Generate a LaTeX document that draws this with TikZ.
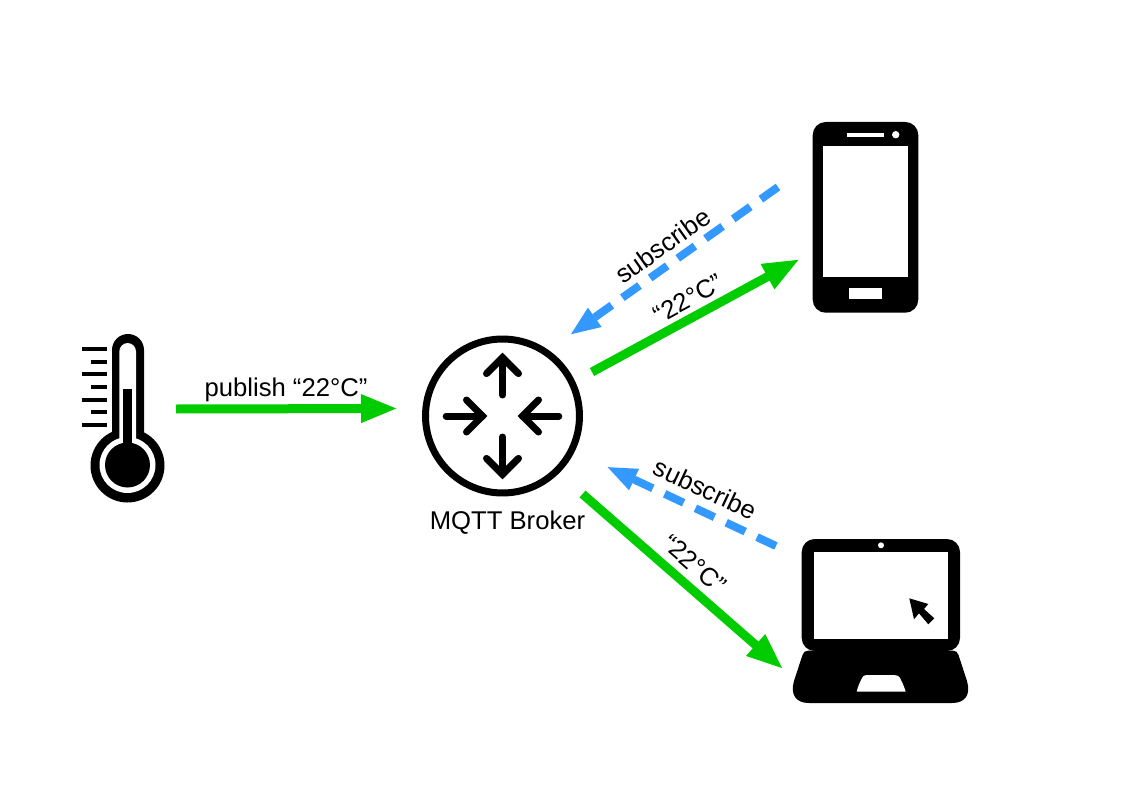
\documentclass[tikz,border=0pt]{standalone}
\usepackage{fontspec}
\setmainfont{Liberation Sans}
\usepackage{tikz}
\usetikzlibrary{arrows.meta, positioning}
\definecolor{pubgreen}{HTML}{00CC00}
\definecolor{subblue}{HTML}{3399FF}
\tikzstyle{label} = [font=\fontsize{14.6}{17}\selectfont, inner sep=2pt]
\tikzstyle{publine} = [pubgreen, line width=0.18cm, -{Triangle[length=0.74cm,width=0.52cm]}]
\tikzstyle{subline} = [subblue, line width=0.16cm, dash pattern=on 0.42cm off 0.26cm, -{Triangle[length=0.62cm,width=0.42cm]}]
\tikzstyle{router} = [circle, draw=black, line width=0.14cm, minimum size=3.08cm, inner sep=0pt, outer sep=0pt]
\tikzstyle{tick} = [line width=0.08cm]
\tikzstyle{routerarrow} = [line width=0.14cm, line cap=round, miter limit=10]
\begin{document}
\begin{tikzpicture}[x=0.02cm, y=-0.02cm]
    \useasboundingbox (0,0) rectangle (1123,794);

        % Broker
        \node (broker) [router] at (502.5,416) {};
        \node (brokerlabel) [label, below=0.28cm of broker, xshift=0.1cm] {MQTT Broker};
        \foreach \ang in {0,180} {
            \begin{scope}[shift={(broker.center)}, rotate=\ang]
                \draw [routerarrow] (0,21) -- (0,58.4);
                \draw [routerarrow] (-16,42.4) -- (0,58.4) -- (16,42.4);
            \end{scope}
        }
        \foreach \ang in {90,270} {
            \begin{scope}[shift={(broker.center)}, rotate=\ang]
                \draw [routerarrow] (0,56.3) -- (0,20);
                \draw [routerarrow] (-16,36) -- (0,20) -- (16,36);
            \end{scope}
        }

        % Thermometer
        \fill [rounded corners=0.32cm] (112,334) rectangle (144,470);
        \fill (127.5,465.5) circle [radius=37];
        \fill [white] (127.5,465) circle [radius=28];
        \fill [white, rounded corners=0.17cm] (119.3,343) rectangle (136,460);
        \fill (127.5,465) circle [radius=22.5];
        \fill (123.3,389) rectangle (132,460);
        \foreach \y/\x in {349/82.3, 361.7/90.7, 374.3/82.3, 387/90.7, 399.7/82.3, 412.3/90.7, 425.3/82.3}
            \draw [tick] (\x,\y) -- (106.7,\y);

        % Phone
        \fill [rounded corners=0.26cm] (812.7,122) rectangle (918.3,312.7);
        \fill [white] (823,146) rectangle (908.3,276.7);
        \fill [white] (847,133) rectangle (884,136.7);
        \fill [white] (895.7,134.7) circle [radius=3.7];
        \fill [white] (849,288.3) rectangle (882,299);

        % Laptop
        \fill [rounded corners=0.26cm] (801.7,539) rectangle (960,651);
        \fill (808,650.7) -- (953,650.7) .. controls (956,650.7) and (957.5,652) .. (958.5,655) -- (967,681) .. controls (971,695) and (965,703) .. (952,703) -- (809,703) .. controls (796,703) and (790,695) .. (794,681) -- (802.5,655) .. controls (803.5,652) and (805,650.7) .. (808,650.7) -- cycle;
        \fill [white] (814.3,551.7) rectangle (947.7,638.7);
        \fill [white] (881,545.3) circle [radius=3];
        \fill [white] (867,675) -- (894,675) .. controls (897,675) and (899,676) .. (900,678) .. controls (902,682) and (904,686) .. (905.7,691.7) -- (856.7,691.7) .. controls (858,686) and (860,682) .. (862,678) .. controls (863,676) and (864,675) .. (867,675) -- cycle;
        \fill (909.3,598.3) -- (928.3,604) -- (924,609) -- (934.3,618.3) -- (928.3,624.3) -- (919,613.3) -- (914,619.3) -- cycle;

        % Arrow ends
        \coordinate (thermoout) at (176,409);
        \coordinate (brokerwest) at (398,408.5);
        \coordinate (brokerne) at (592,372);
        \coordinate (phonein) at (800,259);
        \coordinate (phoneout) at (778,187);
        \coordinate (brokernein) at (569.5,335.3);
        \coordinate (brokerse) at (582.5,494);
        \coordinate (laptopin) at (783.5,669.3);
        \coordinate (laptopout) at (776,546);
        \coordinate (brokersein) at (606,466.4);

        % Arrows
        \draw [publine] (thermoout) -- node[label, above=-0.03cm, xshift=-0.02cm, black] {publish “22°C”} (brokerwest);
        \draw [publine] (brokerne) -- node[label, pos=0.505, sloped, above=0.03cm, black] {“22°C”} (phonein);
        \draw [subline] (phoneout) -- node[label, sloped, above=0.045cm, black] {subscribe} (brokernein);
        \draw [publine] (brokerse) -- node[label, pos=0.489, sloped, above=0.076cm, black] {“22°C”} (laptopin);
        \draw [subline] (laptopout) -- node[label, pos=0.47, sloped, above=0.1cm, black] {subscribe} (brokersein);

    \end{tikzpicture}
\end{document}
